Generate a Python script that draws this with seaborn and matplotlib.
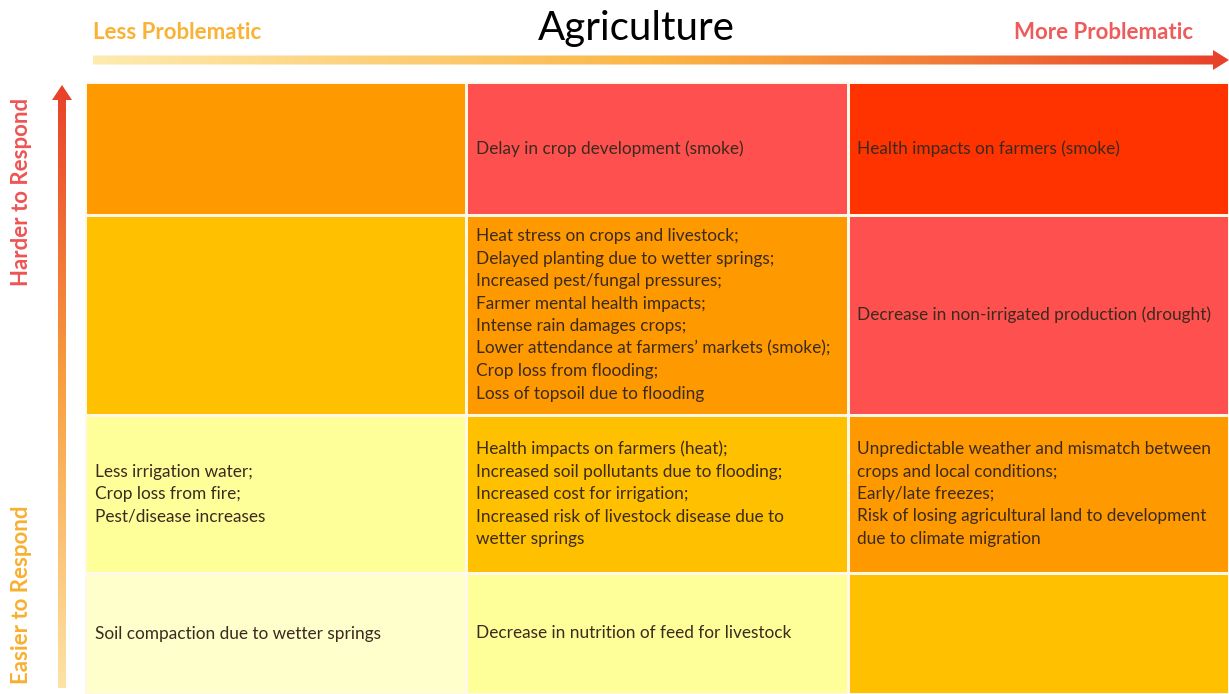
import numpy as np
import matplotlib.pyplot as plt
from matplotlib.colors import ListedColormap
from matplotlib.patches import Polygon
import seaborn as sns

# Data: severity level of each cell (rows top -> bottom, cols left -> right)
levels = [[3, 4, 5],
          [2, 3, 4],
          [1, 2, 3],
          [0, 1, 2]]
level_colors = ['#FFFFCC', '#FFFF99', '#FFC000', '#FF9900', '#FF5050', '#FF3300']

cell_text = [
    ['',
     'Delay in crop development (smoke)',
     'Health impacts on farmers (smoke)'],
    ['',
     'Heat stress on crops and livestock;\nDelayed planting due to wetter springs;\n'
     'Increased pest/fungal pressures;\nFarmer mental health impacts;\n'
     'Intense rain damages crops;\nLower attendance at farmers\u2019 markets (smoke);\n'
     'Crop loss from flooding;\nLoss of topsoil due to flooding',
     'Decrease in non-irrigated production (drought)'],
    ['Less irrigation water;\nCrop loss from fire;\nPest/disease increases',
     'Health impacts on farmers (heat);\nIncreased soil pollutants due to flooding;\n'
     'Increased cost for irrigation;\nIncreased risk of livestock disease due to\nwetter springs',
     'Unpredictable weather and mismatch between\ncrops and local conditions;\n'
     'Early/late freezes;\nRisk of losing agricultural land to development\n'
     'due to climate migration'],
    ['Soil compaction due to wetter springs',
     'Decrease in nutrition of feed for livestock',
     ''],
]

title = 'Agriculture'
x_low, x_high = 'Less Problematic', 'More Problematic'
y_low, y_high = 'Easier to Respond', 'Harder to Respond'

# layout
row_heights = np.array([133, 200, 158, 121])
W, H = 1229, 694

sns.set_theme(style='white')
plt.rcParams['font.family'] = ['Lato', 'DejaVu Sans']

fig = plt.figure(figsize=(W / 100, H / 100), dpi=100)

# overlay axes in pixel coords for arrows and labels
ov = fig.add_axes([0, 0, 1, 1])
ov.set_xlim(0, W)
ov.set_ylim(H, 0)
ov.axis('off')

h_cmap = sns.blend_palette(['#FEEBB0', '#FBB545', '#E8402A'], as_cmap=True)
v_cmap = sns.blend_palette(['#E8402A', '#F9A040', '#FDE3A6'], as_cmap=True)

grad = np.linspace(0, 1, 256)

# horizontal arrow
hx0, hx1, hy = 93, 1229, 60
harrow = Polygon([(hx0, hy - 4.5), (hx1 - 16, hy - 4.5), (hx1 - 16, hy - 10), (hx1, hy),
                  (hx1 - 16, hy + 10), (hx1 - 16, hy + 4.5), (hx0, hy + 4.5)],
                 closed=True, facecolor='none', edgecolor='none')
ov.add_patch(harrow)
im = ov.imshow(grad[None, :], cmap=h_cmap, aspect='auto',
               extent=(hx0, hx1, hy + 10, hy - 10))
im.set_clip_path(harrow)

# vertical arrow
vx, vy0, vy1 = 62, 688, 85
varrow = Polygon([(vx - 4, vy0), (vx - 4, vy1 + 15), (vx - 10, vy1 + 15), (vx, vy1),
                  (vx + 10, vy1 + 15), (vx + 4, vy1 + 15), (vx + 4, vy0)],
                 closed=True, facecolor='none', edgecolor='none')
ov.add_patch(varrow)
im2 = ov.imshow(grad[:, None], cmap=v_cmap, aspect='auto',
                extent=(vx - 10, vx + 10, vy0, vy1))
im2.set_clip_path(varrow)

ov.text(636, 28, title, fontsize=29, ha='center', va='center', color='black')
ov.text(93, 32, x_low, fontsize=16, fontweight='bold', ha='left', va='center',
        color='#F9B234')
ov.text(1193, 32, x_high, fontsize=16, fontweight='bold', ha='right', va='center',
        color='#EF5B5B')
ov.text(22, 192, y_high, fontsize=16, fontweight='bold', rotation=90,
        ha='center', va='center', color='#EE5555')
ov.text(22, 595, y_low, fontsize=16, fontweight='bold', rotation=90,
        ha='center', va='center', color='#F8B030')

# grid of cells
gx0, gy0 = 85, 82
ax = fig.add_axes([gx0 / W, 0, 1 - gx0 / W, 1 - gy0 / H])
y_edges = np.concatenate([[0], np.cumsum(row_heights)])
x_edges = np.arange(len(levels[0]) + 1)
cmap = ListedColormap(level_colors)
ax.pcolormesh(x_edges, y_edges, np.array(levels), cmap=cmap,
              vmin=-0.5, vmax=len(level_colors) - 0.5,
              edgecolor='#FFF8E8', linewidth=1.0)
ax.set_xlim(x_edges[0], x_edges[-1])
ax.set_ylim(y_edges[-1], y_edges[0])
ax.axis('off')

for r, row in enumerate(cell_text):
    yc = (y_edges[r] + y_edges[r + 1]) / 2
    for c, txt in enumerate(row):
        if txt:
            ax.annotate(txt, (c, yc), xytext=(7, 0), textcoords='offset points',
                        ha='left', va='center', fontsize=12.4, color='#3B2A1E',
                        linespacing=1.5)

fig.savefig('out.png', dpi=100)
